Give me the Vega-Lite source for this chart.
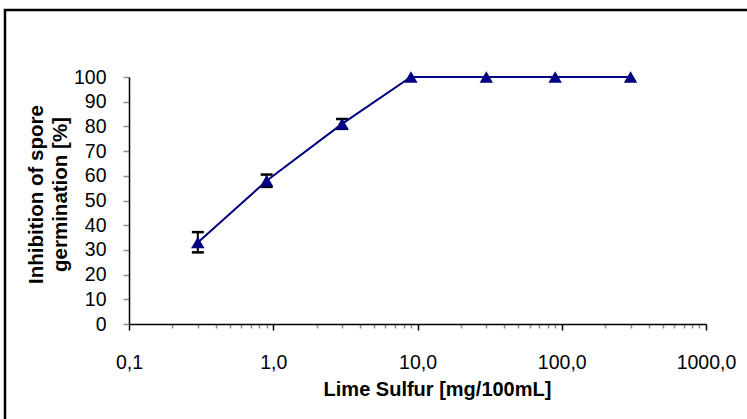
{
  "$schema": "https://vega.github.io/schema/vega-lite/v6.json",
  "width": 746,
  "height": 413,
  "autosize": {"type": "none"},
  "padding": {"left": 5, "top": 10, "right": -4, "bottom": -4},
  "background": "white",
  "config": {
    "font": "Liberation Sans",
    "view": {"stroke": "black", "strokeWidth": 2.5, "fill": "white"},
    "axis": {
      "labelFont": "Liberation Sans",
      "titleFont": "Liberation Sans",
      "labelColor": "black",
      "titleColor": "black",
      "domainColor": "black",
      "domainWidth": 1.5,
      "grid": false
    }
  },
  "data": {
    "values": [
      {"conc": 0.3, "inhibition": 33, "lo": 29, "hi": 37.2},
      {"conc": 0.9, "inhibition": 58, "lo": 55.5, "hi": 60.5},
      {"conc": 3, "inhibition": 81, "lo": 79, "hi": 83},
      {"conc": 9, "inhibition": 100},
      {"conc": 30, "inhibition": 100},
      {"conc": 90, "inhibition": 100},
      {"conc": 300, "inhibition": 100}
    ]
  },
  "encoding": {
    "x": {
      "field": "conc",
      "type": "quantitative",
      "scale": {"type": "log", "domain": [0.1, 1000], "range": [124, 701], "nice": false},
      "axis": {
        "title": "Lime Sulfur [mg/100mL]",
        "offset": -99,
        "values": [0.1, 0.2, 0.3, 0.4, 0.5, 0.6, 0.7, 0.8, 0.9, 1, 2, 3, 4, 5, 6, 7, 8, 9, 10, 20, 30, 40, 50, 60, 70, 80, 90, 100, 200, 300, 400, 500, 600, 700, 800, 900, 1000],
        "labelExpr": "abs(log(datum.value)/LN10 - round(log(datum.value)/LN10)) < 0.001 ? replace(format(datum.value, '.1f'), '.', ',') : ''",
        "labelOverlap": false,
        "labelFlush": false,
        "labelFontSize": 19.5,
        "labelPadding": 23,
        "tickSize": {"condition": {"test": "abs(log(datum.value)/LN10 - round(log(datum.value)/LN10)) < 0.001", "value": 6}, "value": 4},
        "tickColor": {"condition": {"test": "abs(log(datum.value)/LN10 - round(log(datum.value)/LN10)) < 0.001", "value": "black"}, "value": "#8c8c8c"},
        "tickWidth": 1.5,
        "titleFontSize": 20,
        "titleFontWeight": "bold",
        "titleX": 432,
        "titleY": 71,
        "titleBaseline": "alphabetic"
      }
    }
  },
  "layer": [
    {
      "mark": {"type": "rule", "color": "black", "strokeWidth": 2, "opacity": 1},
      "encoding": {
        "y": {"field": "lo", "type": "quantitative", "scale": {"domain": [0, 100], "range": [314, 67], "nice": false}, "title": ["Inhibition of spore", "germination [%]"]},
        "y2": {"field": "hi"}
      }
    },
    {
      "mark": {"type": "tick", "color": "black", "thickness": 2.5, "size": 12, "orient": "horizontal", "opacity": 1},
      "encoding": {
        "y": {"field": "lo", "type": "quantitative", "scale": {"domain": [0, 100], "range": [314, 67], "nice": false}, "title": ["Inhibition of spore", "germination [%]"]}
      }
    },
    {
      "mark": {"type": "tick", "color": "black", "thickness": 2.5, "size": 12, "orient": "horizontal", "opacity": 1},
      "encoding": {
        "y": {"field": "hi", "type": "quantitative", "scale": {"domain": [0, 100], "range": [314, 67], "nice": false}, "title": ["Inhibition of spore", "germination [%]"]}
      }
    },
    {
      "mark": {"type": "line", "color": "#000080", "strokeWidth": 2},
      "encoding": {
        "y": {"field": "inhibition", "type": "quantitative", "scale": {"domain": [0, 100], "range": [314, 67], "nice": false}, "title": ["Inhibition of spore", "germination [%]"]}
      }
    },
    {
      "mark": {"type": "point", "shape": "triangle-up", "filled": true, "size": 180, "color": "#000080", "opacity": 1},
      "encoding": {
        "y": {
          "field": "inhibition",
          "type": "quantitative",
          "scale": {"domain": [0, 100], "range": [314, 67], "nice": false},
          "axis": {
            "title": ["Inhibition of spore", "germination [%]"],
            "offset": -124,
            "values": [0, 10, 20, 30, 40, 50, 60, 70, 80, 90, 100],
            "labelFontSize": 19.5,
            "labelPadding": 17,
            "tickSize": 6,
            "tickColor": "#8c8c8c",
            "tickWidth": 1.5,
            "titleFontSize": 20.5,
            "titleFontWeight": "bold",
            "titleLineHeight": 24,
            "titleX": -93,
            "titleY": 184,
            "titleBaseline": "middle",
            "titleAngle": -90
          }
        }
      }
    }
  ]
}
